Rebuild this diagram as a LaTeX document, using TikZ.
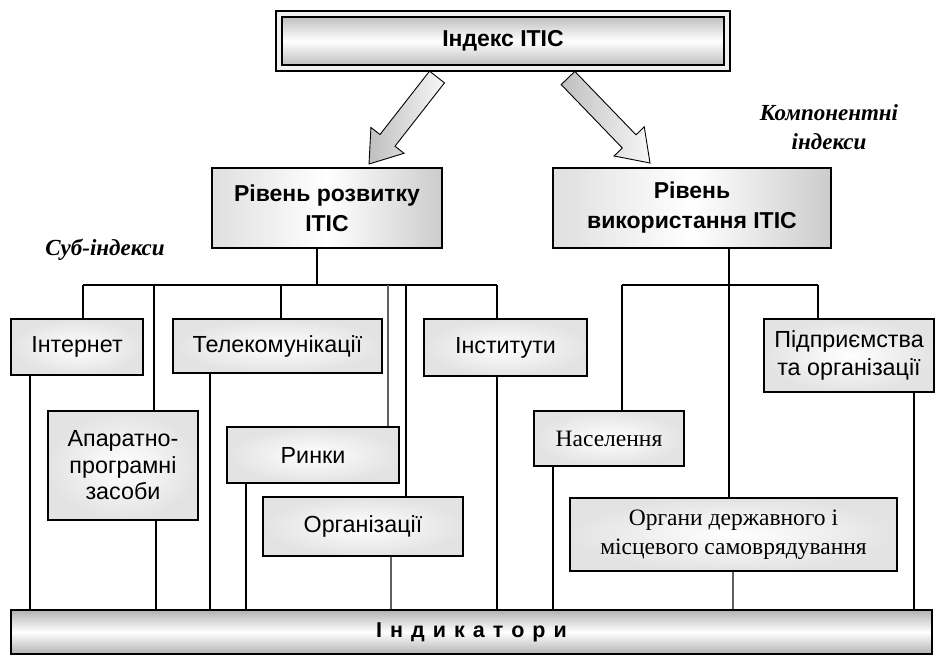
\documentclass[tikz,border=0pt]{standalone}
\usepackage{fontspec}
\setmainfont{Liberation Serif}
\setsansfont{Liberation Sans}
\usetikzlibrary{calc}
\begin{document}
\begin{tikzpicture}[x=1pt,y=-1pt,
  box/.style={draw, line width=1.8pt, inner sep=2pt, align=center, shade, inner color=white, outer color=gray!22, font=\sffamily\fontsize{23.3}{27.5}\selectfont},
  sbox/.style={box, font=\rmfamily\fontsize{23.5}{29}\selectfont},
  lvl/.style={draw, line width=1.8pt, align=center, shade, left color=gray!25, right color=gray!40, middle color=white, font=\sffamily\bfseries\fontsize{23}{30}\selectfont},
  conn/.style={line width=1.6pt},
  grayline/.style={line width=1.1pt, gray!75!black},
  lab/.style={font=\rmfamily\bfseries\itshape\fontsize{23}{29}\selectfont, align=center},
  barrow/.style={draw, line width=0.9pt, left color=gray!50, right color=gray!6}
]
\useasboundingbox (0,0) rectangle (940,657);

% top box
\node[draw, line width=1.4pt, fill=gray!12, minimum width=454pt, minimum height=60pt] (topout) at (503,41) {};
\node[draw, line width=1.6pt, minimum width=442pt, minimum height=48pt, shade, top color=gray!50, bottom color=gray!50, middle color=white, font=\sffamily\bfseries\fontsize{23}{26}\selectfont] (top) at (503,41) {Індекс ІТІС};

% level boxes
\node[lvl, minimum width=230pt, minimum height=80pt] (dev) at (327,208) {Рівень розвитку\\ІТІС};
\node[lvl, minimum width=278pt, minimum height=80pt] (use) at (692,208) {Рівень\\використання ІТІС};

% block arrows
\coordinate (aT1) at (437,77); \coordinate (aP1) at (369,164);
\coordinate (aT2) at (568,78); \coordinate (aP2) at (650,163);
\foreach \t/\p in {aT1/aP1, aT2/aP2}{
  \coordinate (H) at ($(\p)!30pt!(\t)$);
  \path[barrow] ($(\t)!9.5pt!90:(\p)$) -- ($(H)!9.5pt!-90:(\t)$) -- ($(H)!21pt!-90:(\t)$) -- (\p)
     -- ($(H)!21pt!90:(\t)$) -- ($(H)!9.5pt!90:(\t)$) -- ($(\t)!9.5pt!-90:(\p)$) -- cycle;
}

% labels
\node[lab] (komp) at (829,127) {Компонентні\\індекси};
\node[lab] (sub) at (105,250) {Суб-індекси};

% sub-index boxes
\node[box, minimum width=132pt, minimum height=56pt] (inet) at (77,347) {Інтернет};
\node[box, minimum width=209pt, minimum height=54pt] (tele) at (277.5,346) {Телекомунікації};
\node[box, minimum width=163pt, minimum height=57pt] (inst) at (505.5,347.5) {Інститути};
\node[box, minimum width=150pt, minimum height=109pt, font=\sffamily\fontsize{23.3}{26.5}\selectfont] (apar) at (123,465.5) {Апаратно-\\програмні\\засоби};
\node[box, minimum width=172pt, minimum height=56pt] (rynky) at (313,455) {Ринки};
\node[box, minimum width=200pt, minimum height=59pt] (org) at (363,526.5) {Організації};
\node[box, minimum width=170pt, minimum height=73pt] (pidp) at (849,355.5) {Підприємства\\та організації};
\node[sbox, minimum width=150pt, minimum height=55pt] (nas) at (609,438.5) {Населення};
\node[sbox, minimum width=327pt, minimum height=73pt] (organy) at (733.5,534.5) {Органи державного і\\місцевого самоврядування};

% indicator bar
\node[draw, line width=1.6pt, minimum width=921pt, minimum height=44pt, shade, top color=gray!60, bottom color=gray!60, middle color=white, font=\sffamily\bfseries\fontsize{21.5}{24}\selectfont] (ind) at (471.5,632)
  {І\hspace{8pt}н\hspace{8pt}д\hspace{8pt}и\hspace{8pt}к\hspace{8pt}а\hspace{8pt}т\hspace{8pt}о\hspace{8pt}р\hspace{8pt}и};

% guide coordinates
\coordinate (jL) at (317,285);
\coordinate (bL) at (83,285);
\coordinate (bR) at (497,285);
\coordinate (d2) at (154,285);
\coordinate (d3) at (281,285);
\coordinate (d4) at (388,285);
\coordinate (d5) at (406,285);
\coordinate (jR) at (729,285);
\coordinate (rL) at (622,285);
\coordinate (rR) at (818,285);
\coordinate (x1) at (30,0);
\coordinate (x2) at (156,0);
\coordinate (x3) at (210,0);
\coordinate (x4) at (246,0);
\coordinate (x5) at (391,0);
\coordinate (x6) at (497,0);
\coordinate (x7) at (553,0);
\coordinate (x8) at (733,0);
\coordinate (x9) at (914,0);

% left tree
\draw[conn] (dev.south -| jL) -- (jL);
\draw[conn] (bL) -- (bR);
\draw[conn] (bL) -- (bL |- inet.north);
\draw[conn] (d2) -- (d2 |- apar.north);
\draw[conn] (d3) -- (d3 |- tele.north);
\draw[grayline] (d4) -- (d4 |- rynky.north);
\draw[conn] (d5) -- (d5 |- org.north);
\draw[conn] (bR) -- (bR |- inst.north);

% right tree
\draw[conn] (use.south -| jR) -- (organy.north -| jR);
\draw[conn] (rL) -- (rR);
\draw[conn] (rL) -- (rL |- nas.north);
\draw[conn] (rR) -- (rR |- pidp.north);

% to indicators
\draw[conn] (inet.south -| x1) -- (ind.north -| x1);
\draw[conn] (apar.south -| x2) -- (ind.north -| x2);
\draw[conn] (tele.south -| x3) -- (ind.north -| x3);
\draw[conn] (rynky.south -| x4) -- (ind.north -| x4);
\draw[grayline] (org.south -| x5) -- (ind.north -| x5);
\draw[conn] (inst.south -| x6) -- (ind.north -| x6);
\draw[conn] (nas.south -| x7) -- (ind.north -| x7);
\draw[grayline] (organy.south -| x8) -- (ind.north -| x8);
\draw[conn] (pidp.south -| x9) -- (ind.north -| x9);
\end{tikzpicture}
\end{document}
